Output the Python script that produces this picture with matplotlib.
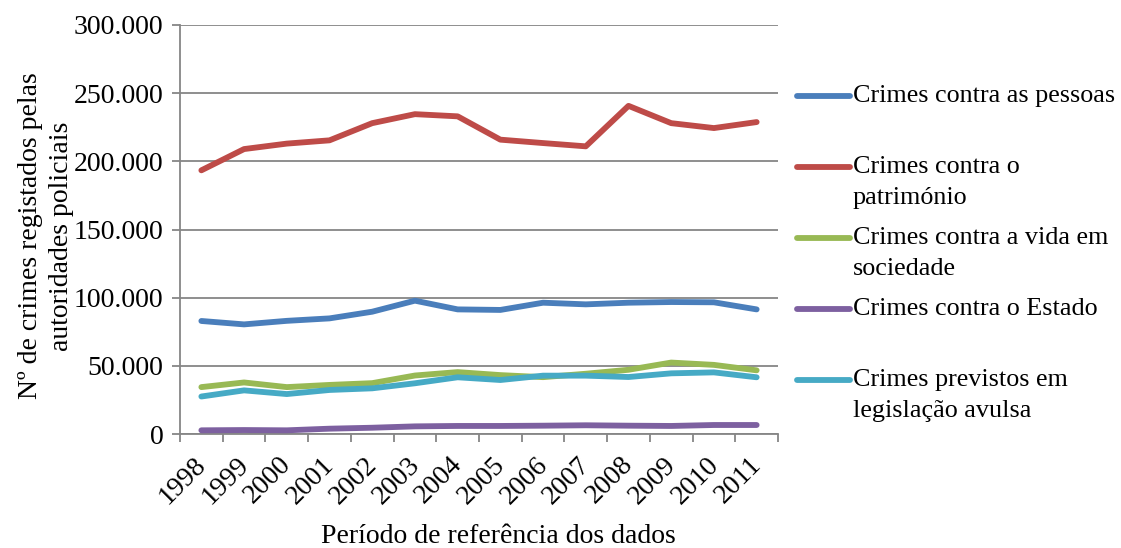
import matplotlib.pyplot as plt
from matplotlib.lines import Line2D
from matplotlib.ticker import FuncFormatter
from matplotlib.transforms import ScaledTranslation

years = [str(y) for y in range(1998, 2012)]

pessoas = [82900, 80400, 83000, 84800, 89700, 97800, 91400, 91000, 96300, 95100, 96300, 96800, 96600, 91400]
patrimonio = [193400, 209000, 213000, 215400, 228000, 234600, 233000, 215900, 213400, 211000, 240700, 228000, 224400, 228800]
vida_sociedade = [34400, 37800, 34400, 36000, 37300, 42900, 45400, 43200, 41700, 44200, 47100, 52400, 50700, 46700]
estado = [2700, 2900, 2700, 3900, 4600, 5600, 5900, 5900, 6100, 6400, 6100, 5900, 6600, 6600]
avulsa = [27500, 32000, 29300, 32300, 33500, 37200, 41600, 39600, 42800, 42800, 41800, 44500, 45200, 41600]

series = [
    ("Crimes contra as pessoas", pessoas, "#4A7EBB"),
    ("Crimes contra o\npatrimónio", patrimonio, "#BE4B48"),
    ("Crimes contra a vida em\nsociedade", vida_sociedade, "#98B954"),
    ("Crimes contra o Estado", estado, "#7D60A0"),
    ("Crimes previstos em\nlegislação avulsa", avulsa, "#46AAC5"),
]

plt.rcParams['font.family'] = ['Liberation Serif', 'DejaVu Serif']

W, H = 1121, 548
fig = plt.figure(figsize=(W / 100, H / 100), dpi=100)
ax = fig.add_axes([180 / W, 1 - 434 / H, (778 - 180) / W, (434 - 25) / H])

x = list(range(len(years)))
for label, vals, color in series:
    ax.plot(x, vals, color=color, lw=4.2, solid_capstyle='round', zorder=3)

grid_c = "#868686"
ax.set_ylim(0, 300000)
ax.set_xlim(-0.5, len(years) - 0.5)
ax.set_yticks(range(0, 300001, 50000))
ax.yaxis.set_major_formatter(FuncFormatter(lambda v, p: f"{int(v):,}".replace(",", ".")))
ax.grid(axis='y', color=grid_c, lw=1.3)
ax.set_axisbelow(True)

ax.set_xticks([i - 0.5 for i in range(len(years) + 1)])
ax.set_xticklabels([])
ax.set_xticks(x, minor=True)
ax.set_xticklabels(years, minor=True, rotation=45, ha='right', rotation_mode='anchor', fontsize=20)
ax.tick_params(axis='x', which='minor', length=0, pad=13)
ax.tick_params(axis='x', which='major', length=6, color=grid_c, width=1.3)
ax.tick_params(axis='y', length=6, color=grid_c, width=1.3, labelsize=20, pad=6)
shift = ScaledTranslation(-8 / 100, 0, fig.dpi_scale_trans)
for t in ax.get_xticklabels(minor=True):
    t.set_transform(t.get_transform() + shift)

for s in ['top', 'right']:
    ax.spines[s].set_visible(False)
for s in ['left', 'bottom']:
    ax.spines[s].set_color(grid_c)
    ax.spines[s].set_linewidth(1.3)

fig.text(46 / W, 1 - 236 / H, "Nº de crimes registados pelas\nautoridades policiais",
         fontsize=20, rotation=90, ha='center', va='center', linespacing=1.3)
fig.text(498 / W, 1 - 543 / H, "Período de referência dos dados", fontsize=20, ha='center', va='baseline')

# legend drawn by hand to mimic the spreadsheet layout
for i, (label, vals, color) in enumerate(series):
    yp = 96 + 71 * i
    yf = 1 - yp / H
    fig.add_artist(Line2D([797 / W, 850 / W], [yf, yf], color=color, lw=4.2, solid_capstyle='round'))
    fig.text(853 / W, 1 - (yp - 11) / H, label, fontsize=18.8, va='top', ha='left', linespacing=1.55)

fig.savefig("out.png", dpi=100)
